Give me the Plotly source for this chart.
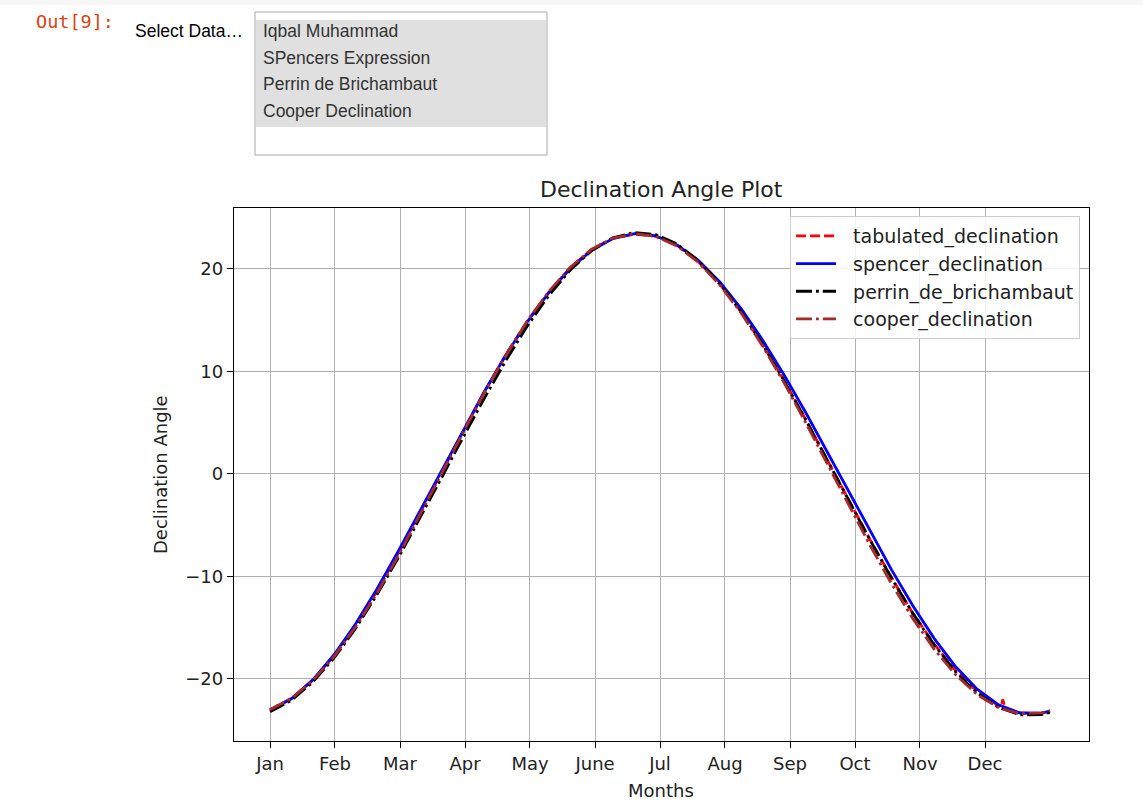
import plotly.graph_objects as go

W, H = 1143, 801

# ---- data (day of year vs declination angle, degrees) ----
days = [1, 11, 21, 31, 41, 51, 61, 71, 81, 91, 101, 111, 121, 131, 141, 151, 161, 171, 181,
        191, 201, 211, 221, 231, 241, 251, 261, 271, 281, 291, 301, 311, 321, 331, 341, 351, 361, 365]

spencer_declination = [-23.06, -21.93, -20.08, -17.61, -14.61, -11.20, -7.49, -3.62, 0.33, 4.24,
                       8.03, 11.58, 14.83, 17.67, 20.02, 21.80, 22.96, 23.44, 23.24, 22.35,
                       20.82, 18.71, 16.09, 13.03, 9.64, 6.00, 2.19, -1.70, -5.57, -9.33,
                       -12.86, -16.06, -18.81, -21.00, -22.52, -23.32, -23.34, -23.13]

perrin_de_brichambaut = [-23.19, -22.08, -20.30, -17.92, -15.04, -11.74, -8.13, -4.32, -0.39, 3.54,
                         7.38, 11.04, 14.41, 17.39, 19.87, 21.78, 23.03, 23.56, 23.36, 22.43,
                         20.81, 18.57, 15.80, 12.60, 9.06, 5.29, 1.38, -2.56, -6.44, -10.15,
                         -13.60, -16.68, -19.31, -21.36, -22.78, -23.50, -23.48, -23.26]

cooper_declination = [-23.01, -21.90, -20.14, -17.78, -14.90, -11.58, -7.92, -4.02, 0.00, 4.02,
                      7.92, 11.58, 14.90, 17.78, 20.14, 21.90, 23.01, 23.44, 23.18, 22.24,
                      20.64, 18.42, 15.67, 12.45, 8.86, 5.01, 1.01, -3.02, -6.96, -10.69,
                      -14.11, -17.11, -19.60, -21.52, -22.80, -23.40, -23.31, -23.09]

tab_days = [1, 11, 21, 31, 41, 51, 61, 71, 81, 91, 101, 111, 121, 131, 141, 151, 161, 171, 181,
            191, 201, 211, 221, 231, 241, 251, 261, 271, 281, 291, 301, 311, 321, 331, 341,
            342, 343, 344, 351, 361, 365]
tabulated_declination = [-23.0, -21.9, -20.1, -17.7, -14.8, -11.4, -7.7, -3.8, 0.2, 4.1,
                         8.0, 11.6, 14.9, 17.7, 20.1, 21.9, 23.0, 23.4, 23.2, 22.3,
                         20.7, 18.5, 15.8, 12.6, 9.1, 5.3, 1.4, -2.5, -6.4, -10.1,
                         -13.6, -16.6, -19.2, -21.2, -22.6, -22.75, -22.0, -22.9, -23.3, -23.4, -23.2]

month_labels = ["Jan", "Feb", "Mar", "Apr", "May", "June", "Jul", "Aug", "Sep", "Oct", "Nov", "Dec"]
month_ticks = [1, 31.33, 61.67, 92, 122.33, 152.67, 183, 213.33, 243.67, 274, 304.33, 334.67]
y_ticks = [-20, -10, 0, 10, 20]

options = ["Iqbal Muhammad", "SPencers Expression", "Perrin de Brichambaut", "Cooper Declination"]

# ---- helpers for pixel placement ----
def px(x):
    return x / W

def py(y):
    return 1 - y / H

MPL = "DejaVu Sans"
LW = 2.8
PAD = "\u00a0\u00a0"  # visual gap between legend sample and label

fig = go.Figure()

fig.add_trace(go.Scatter(x=tab_days, y=tabulated_declination, mode="lines", name=PAD + "tabulated_declination",
                         line=dict(color="red", width=LW, dash="10px,4px")))
fig.add_trace(go.Scatter(x=days, y=spencer_declination, mode="lines", name=PAD + "spencer_declination",
                         line=dict(color="blue", width=LW)))
fig.add_trace(go.Scatter(x=days, y=perrin_de_brichambaut, mode="lines", name=PAD + "perrin_de_brichambaut",
                         line=dict(color="black", width=LW, dash="16px,4px,2.8px,4px")))
fig.add_trace(go.Scatter(x=days, y=cooper_declination, mode="lines", name=PAD + "cooper_declination",
                         line=dict(color="#a52a2a", width=LW, dash="16px,4px,2.8px,4px")))

axis_common = dict(
    showline=True, mirror=True, linecolor="black", linewidth=1.3,
    ticks="outside", ticklen=6, tickwidth=1.3, tickcolor="black",
    showgrid=True, gridcolor="#b0b0b0", gridwidth=1.2, zeroline=False,
    tickfont=dict(family=MPL, size=18, color="#222222"),
)

fig.update_layout(
    width=W, height=H,
    margin=dict(l=0, r=0, t=0, b=0),
    paper_bgcolor="white", plot_bgcolor="white",
    showlegend=True,
    xaxis=dict(domain=[px(234), px(1089)], range=[-15.8, 383.2],
               tickmode="array", tickvals=month_ticks, ticktext=month_labels, **axis_common),
    yaxis=dict(domain=[py(741), py(208)], range=[-26.05, 25.95],
               tickmode="array", tickvals=y_ticks, ticktext=["\u221220", "\u221210", "0", "10", "20"],
               **axis_common),
    legend=dict(x=px(1080), y=py(216), xanchor="right", yanchor="top", itemwidth=40,
                bgcolor="rgba(255,255,255,0.85)", bordercolor="#cccccc", borderwidth=1,
                font=dict(family=MPL, size=19, color="#222222")),
)

annotations = [
    dict(text="Declination Angle Plot", x=px(661), y=py(189), xanchor="center", yanchor="middle",
         font=dict(family=MPL, size=22, color="#222222")),
    dict(text="Months", x=px(661), y=py(790), xanchor="center", yanchor="middle",
         font=dict(family=MPL, size=18, color="#222222")),
    dict(text="Declination Angle", x=px(160), y=py(475), xanchor="center", yanchor="middle",
         textangle=-90, font=dict(family=MPL, size=18, color="#222222")),
    dict(text="Out[9]:", x=px(34), y=py(22), xanchor="left", yanchor="middle",
         font=dict(family="DejaVu Sans Mono", size=18.5, color="#D84315")),
    dict(text="Select Data\u2026", x=px(133), y=py(31), xanchor="left", yanchor="middle",
         font=dict(family="Liberation Sans", size=17.5, color="black")),
]
for i, opt in enumerate(options):
    annotations.append(dict(text=opt, x=px(261), y=py(31 + 26.7 * i), xanchor="left", yanchor="middle",
                            font=dict(family="Liberation Sans", size=17.5, color="#333333")))
for a in annotations:
    a.update(xref="paper", yref="paper", showarrow=False)
fig.update_layout(annotations=annotations)

fig.update_layout(shapes=[
    dict(type="rect", xref="paper", yref="paper", x0=0, x1=1, y0=py(5), y1=1,
         fillcolor="#f7f7f7", line=dict(width=0), layer="below"),
    dict(type="rect", xref="paper", yref="paper", x0=px(255), x1=px(547), y0=py(155), y1=py(12),
         fillcolor="white", line=dict(color="#a8a8a8", width=1)),
    dict(type="rect", xref="paper", yref="paper", x0=px(256), x1=px(546), y0=py(127), y1=py(20),
         fillcolor="#e0e0e0", line=dict(width=0)),
])

fig.write_html("out.html")
